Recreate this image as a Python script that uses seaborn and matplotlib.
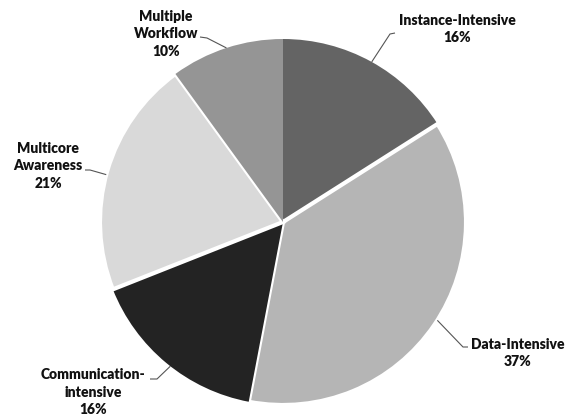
import numpy as np
import matplotlib
matplotlib.use("Agg")
import matplotlib.pyplot as plt
import seaborn as sns

# ---- data ----
categories = ["Instance-Intensive", "Data-Intensive", "Communication-\nintensive",
              "Multicore\nAwareness", "Multiple\nWorkflow"]
shares = [16, 37, 16, 21, 10]
colors = ["#646464", "#b5b5b5", "#232323", "#d9d9d9", "#959595"]
explode = [0.0, 0.03, 0.0, 0.02, 0.0]
outlined = [False, True, False, True, False]

# label layout (pixel coords, y from top)
label_pos = [(457, 29), (518, 353), (93, 392), (48, 166), (166, 34)]
# leader lines: text-side point, stub end, anchor angle on pie edge (deg)
leader_start = [(395, 33), (468, 347), (150, 379), (85, 170), (200, 37)]
leader_stub = [(390, 34), (463, 347), (157, 379), (90, 170), (207, 38)]
anchor_angle = [61.0, -32.5, -128.0, 165.0, 108.0]

W, H = 567, 419
sns.set_theme(style="white")
plt.rcParams["font.family"] = ["Lato", "DejaVu Sans"]

fig = plt.figure(figsize=(W / 100, H / 100), dpi=100)
ax = fig.add_axes([0, 0, 1, 1])

cx, cy, R = 283, H - 222, 183
palette = sns.color_palette(colors)
wedges, _ = ax.pie(shares, colors=palette, startangle=90, counterclock=False,
                   explode=explode, radius=R, center=(cx, cy),
                   wedgeprops=dict(linewidth=0))
for w, o in zip(wedges, outlined):
    if o:
        w.set_edgecolor("white")
        w.set_linewidth(3.0)
        w.set_joinstyle("miter")

ax.set_xlim(0, W)
ax.set_ylim(0, H)
ax.set_aspect("auto")
ax.axis("off")

for cat, val, (tx, ty), s0, s1, ang in zip(categories, shares, label_pos,
                                           leader_start, leader_stub, anchor_angle):
    ax.text(tx, H - ty, f"{cat}\n{val}%", ha="center", va="center",
            multialignment="center", fontsize=10, fontweight="heavy",
            color="#111111", linespacing=1.42)
    a = np.deg2rad(ang)
    ex, ey = cx + R * np.cos(a), cy + R * np.sin(a)
    ax.plot([s0[0], s1[0], ex], [H - s0[1], H - s1[1], ey],
            color="#555555", lw=0.8, solid_capstyle="butt")

fig.savefig("out.png", dpi=100)
